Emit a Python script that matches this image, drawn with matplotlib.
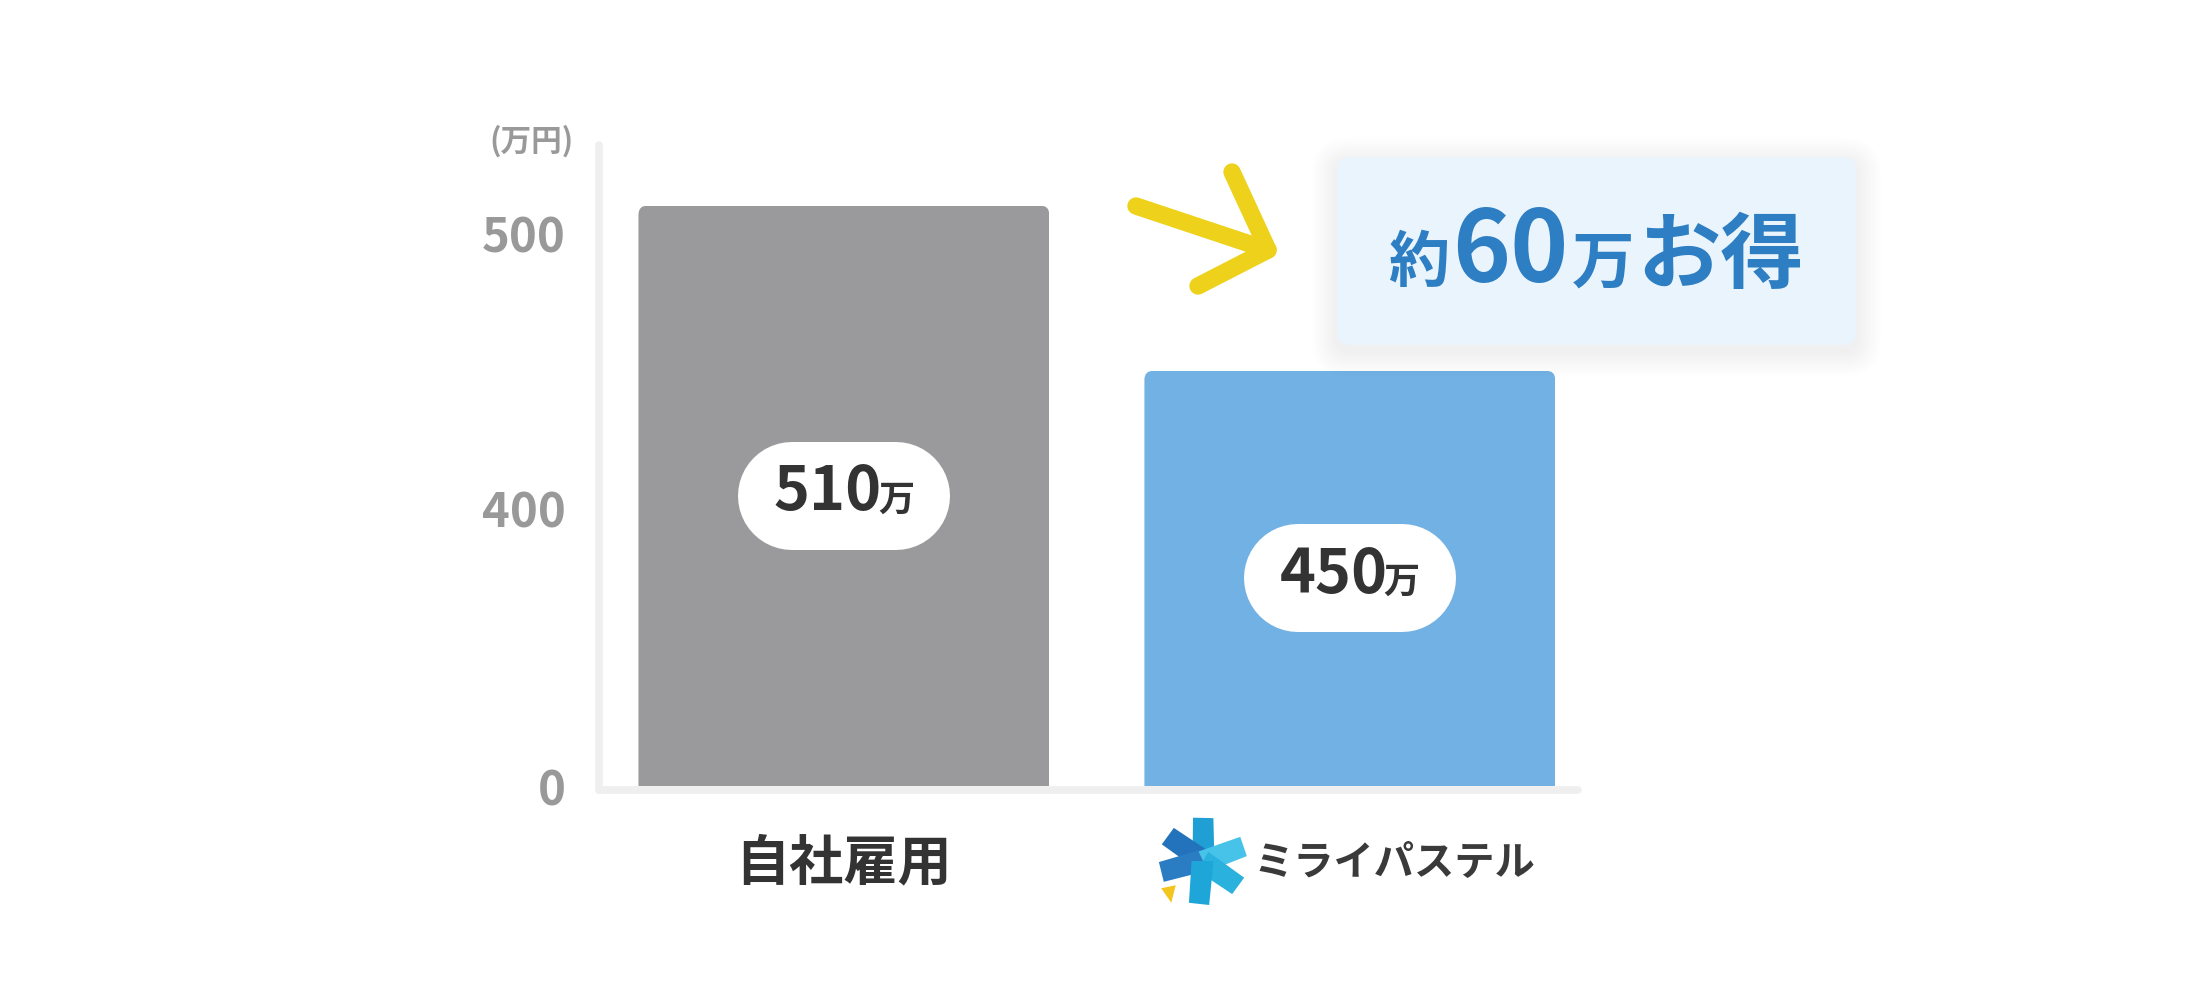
"""
自社雇用 vs ミライパステル cost comparison
=========================================
Two bars on a broken y-axis (0-400 squeezed), value pills, a callout box
and an arrow. Saves out.png (2200x1000).
"""

import matplotlib

matplotlib.use("Agg")

import matplotlib.pyplot as plt
import numpy as np
from matplotlib.lines import Line2D
from matplotlib.offsetbox import AnnotationBbox, HPacker, TextArea
from matplotlib.patches import FancyBboxPatch, Polygon
from matplotlib.transforms import IdentityTransform, ScaledTranslation

# ---------------------------------------------------------------------------
# Data
# ---------------------------------------------------------------------------

CATEGORIES = ["自社雇用", "ミライパステル"]
VALUES = [510, 450]
VALUE_LABELS = ["510", "450"]
UNIT = "万"
Y_TICKS = [0, 400, 500]
Y_UNIT_LABEL = "(万円)"
CALLOUT_PARTS = ["約", "60", "万", "お得"]

BAR_COLORS = ["#9a9a9c", "#72b1e4"]
DARK = "#333333"
GRAY = "#999999"
BLUE_TEXT = "#2e7ec3"
YELLOW = "#eed11a"
AXIS_COLOR = "#efefef"

W, H = 2200, 1000

plt.rcParams["font.family"] = ["Noto Sans CJK JP", "DejaVu Sans"]

# lower part of the axis (0-400) is squeezed, like a broken axis
BREAK = 400
SQUEEZE = 0.252


def fwd(v):
    v = np.asarray(v, dtype=float)
    return np.where(v <= BREAK, v * SQUEEZE, BREAK * SQUEEZE + (v - BREAK))


def inv(u):
    u = np.asarray(u, dtype=float)
    return np.where(u <= BREAK * SQUEEZE, u / SQUEEZE, u - BREAK * SQUEEZE + BREAK)


def px(x, y_top):
    """top-left pixel position -> display coords"""
    return x, H - y_top


def draw_logo(fig):
    lax = fig.add_axes([(1203 - 44) / W, 1 - (861 + 44) / H, 88 / W, 88 / H])
    lax.set_xlim(-1, 1)
    lax.set_ylim(-1, 1)
    lax.axis("off")
    blades = [
        (95, "#1f9fd4"),
        (150, "#2273bb"),
        (200, "#2a7dc2"),
        (25, "#47c2e8"),
        (-30, "#2bb1dd"),
        (-90, "#1fa6d8"),
    ]
    for ang, col in blades:
        a = np.deg2rad(ang)
        rot = np.array([[np.cos(a), -np.sin(a)], [np.sin(a), np.cos(a)]])
        shape = np.array([[0.0, -0.26], [0.95, -0.32], [1.0, 0.14], [0.0, 0.24]])
        lax.add_patch(Polygon(shape @ rot.T, closed=True, fc=col, ec="none"))
    lax.add_patch(Polygon([[-0.95, -0.62], [-0.62, -0.55], [-0.72, -0.95]],
                          closed=True, fc="#f2c61f", ec="none"))


def add_pill(fig, cx, cy, length, height, color, z):
    # a thick line with round caps makes a clean pill shape
    fig.add_artist(Line2D([cx - length / 2, cx + length / 2], [cy, cy],
                          transform=IdentityTransform(), color=color,
                          lw=height * 0.72, solid_capstyle="round", zorder=z))


def main() -> None:
    fig = plt.figure(figsize=(W / 100, H / 100), dpi=100)
    fig.patch.set_facecolor("white")

    ax = fig.add_axes([599 / W, 214 / H, 979 / W, 641 / H])
    ax.set_yscale("function", functions=(fwd, inv))

    # ------------------------------------------------------------------
    # Bars
    # ------------------------------------------------------------------
    x = np.arange(len(CATEGORIES))
    bars = ax.bar(x, VALUES, width=0.812, color=BAR_COLORS, zorder=2)
    ax.set_xlim(-0.484, 1.451)
    ax.set_ylim(0, 532)

    for s in ax.spines.values():
        s.set_visible(False)
    ax.plot([0, 0], [-0.006, 1], transform=ax.transAxes, color=AXIS_COLOR,
            lw=5.5, solid_capstyle="round", clip_on=False, zorder=1)
    ax.plot([0, 1], [-0.006, -0.006], transform=ax.transAxes, color=AXIS_COLOR,
            lw=5.5, solid_capstyle="round", clip_on=False, zorder=1)

    # rounded top corners
    for bar in bars:
        bb = bar.get_window_extent()
        clip = FancyBboxPatch((bb.x0, bb.y0 - 30), bb.width, bb.height + 30,
                              boxstyle="round,pad=0,rounding_size=9",
                              transform=IdentityTransform())
        bar.set_clip_path(clip)

    # ------------------------------------------------------------------
    # Ticks
    # ------------------------------------------------------------------
    ax.set_yticks(Y_TICKS, [str(t) for t in Y_TICKS])
    ax.tick_params(axis="y", length=0, pad=24, labelsize=34, labelcolor=GRAY)
    for lbl in ax.get_yticklabels():
        lbl.set_fontweight("bold")

    ax.set_xticks(x, CATEGORIES)
    ax.tick_params(axis="x", length=0, pad=56, labelcolor=DARK)
    xl = ax.get_xticklabels()
    for lbl in xl:
        lbl.set_verticalalignment("center")
    xl[0].set_fontsize(39)
    xl[0].set_fontweight("bold")
    xl[1].set_fontsize(29)
    xl[1].set_fontweight("bold")
    xl[1].set_color("#3a3a3a")
    xl[1].set_transform(xl[1].get_transform()
                        + ScaledTranslation(0.44, 0, fig.dpi_scale_trans))

    fig.text(574 / W, 1 - 141 / H, Y_UNIT_LABEL, ha="right", va="center",
             fontsize=22, fontweight="bold", color=GRAY)

    # ------------------------------------------------------------------
    # Value pills
    # ------------------------------------------------------------------
    for xi, v, txt in zip(x, VALUES, VALUE_LABELS):
        cx, y0 = ax.transData.transform((xi, 0))
        _, y1 = ax.transData.transform((xi, v))
        cy = (y0 + y1) / 2
        add_pill(fig, cx, cy, 212 - 108, 108, "white", 3)
        pack = HPacker(children=[
            TextArea(txt, textprops=dict(size=44, weight="bold", color=DARK)),
            TextArea(UNIT, textprops=dict(size=26, weight="bold", color=DARK)),
        ], align="baseline", pad=0, sep=-3)
        fig.add_artist(AnnotationBbox(pack, (cx, cy), xycoords="figure pixels",
                                      frameon=False, box_alignment=(0.5, 0.45),
                                      zorder=4))

    # ------------------------------------------------------------------
    # Callout box with soft shadow
    # ------------------------------------------------------------------
    bx, by = px(1337, 345)
    bw, bh = 519, 188
    for i in range(1, 16):
        d = 1.7 * i
        fig.add_artist(FancyBboxPatch(
            (bx - d, by - 6 - d), bw + 2 * d, bh + 2 * d,
            boxstyle=f"round,pad=0,rounding_size={12 + d}",
            transform=IdentityTransform(), fc="black", ec="none",
            alpha=0.0045, zorder=2))
    fig.add_artist(FancyBboxPatch((bx, by), bw, bh,
                                  boxstyle="round,pad=0,rounding_size=12",
                                  transform=IdentityTransform(), fc="#eaf4fd",
                                  ec="none", zorder=3))
    sizes = [44, 71, 45, 60]
    pack = HPacker(children=[
        TextArea(t, textprops=dict(size=s, weight="bold", color=BLUE_TEXT))
        for t, s in zip(CALLOUT_PARTS, sizes)
    ], align="baseline", pad=0, sep=2)
    fig.add_artist(AnnotationBbox(pack, px(1596, 258), xycoords="figure pixels",
                                  frameon=False, box_alignment=(0.5, 0.45),
                                  zorder=4))

    # ------------------------------------------------------------------
    # Arrow
    # ------------------------------------------------------------------
    tail, tip = px(1136, 206), px(1268, 250)
    upper, lower = px(1232, 172), px(1198, 286)
    for pts in ([tail, tip], [upper, tip, lower]):
        xs, ys = zip(*pts)
        fig.add_artist(Line2D(xs, ys, transform=IdentityTransform(), color=YELLOW,
                              lw=12.5, solid_capstyle="round",
                              solid_joinstyle="round", zorder=3))

    draw_logo(fig)

    fig.savefig("out.png", dpi=100, facecolor="white")


if __name__ == "__main__":
    main()
